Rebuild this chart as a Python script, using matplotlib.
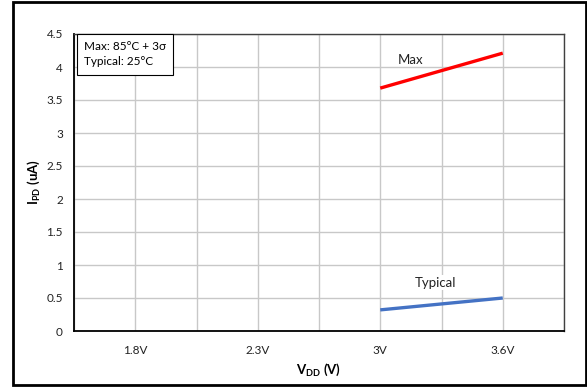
import numpy as np
import matplotlib.pyplot as plt
from matplotlib.patches import Rectangle

plt.rcParams['font.family'] = ['Lato', 'DejaVu Sans']
plt.rcParams['mathtext.fontset'] = 'custom'
plt.rcParams['mathtext.rm'] = 'Lato'
plt.rcParams['mathtext.bf'] = 'Lato:bold'
plt.rcParams['mathtext.default'] = 'regular'

categories = ['1.8V', '2.3V', '3V', '3.6V']
max_vdd = ['3V', '3.6V']
max_ipd = [3.68, 4.21]
typ_vdd = ['3V', '3.6V']
typ_ipd = [0.32, 0.50]

fig = plt.figure(figsize=(5.87, 3.87), dpi=100)
ax = fig.add_axes([74 / 587, 1 - 331 / 387, 490 / 587, 297 / 387])

xpos = {c: i for i, c in enumerate(categories)}
ax.plot([xpos[v] for v in max_vdd], max_ipd, color='#ff0000', lw=2.4,
        solid_capstyle='butt', zorder=3)
ax.plot([xpos[v] for v in typ_vdd], typ_ipd, color='#4472c4', lw=2.4,
        solid_capstyle='butt', zorder=3)

ax.text(2.25, 4.1, 'Max', fontsize=9.5, ha='center', va='center', color='#222222')
ax.text(2.45, 0.73, 'Typical', fontsize=9.5, ha='center', va='center', color='#222222',
        bbox=dict(facecolor='white', edgecolor='none', pad=1))

ax.set_xlim(-0.5, 3.5)
ax.set_ylim(0, 4.5)
ax.set_xticks(range(len(categories)))
ax.set_xticklabels(categories)
ax.set_xticks(np.arange(-0.5, 3.6, 1), minor=True)
ax.set_yticks(np.arange(0, 4.51, 0.5))
ax.set_yticklabels(['0', '0.5', '1', '1.5', '2', '2.5', '3', '3.5', '4', '4.5'])
ax.grid(True, which='both', color='#c8c8c8', lw=1)
ax.set_axisbelow(True)
ax.tick_params(which='both', length=0, labelsize=8.5, colors='#222222')
ax.tick_params(axis='x', pad=10)
ax.tick_params(axis='y', pad=8)
for s in ax.spines.values():
    s.set_color('#404040')
    s.set_linewidth(1)
ax.spines['left'].set_color('black')
ax.spines['bottom'].set_color('black')
ax.spines['left'].set_linewidth(1.3)
ax.spines['bottom'].set_linewidth(1.3)

ax.set_xlabel(r'$\mathbf{V_{DD}}$ (V)', fontsize=9.5, fontweight='bold', labelpad=4)
ax.set_ylabel(r'$\mathbf{I_{PD}}$ (uA)', fontsize=9.5, fontweight='bold', labelpad=3)

ax.text(0.02, 0.975, 'Max: 85°C + 3σ\nTypical: 25°C', transform=ax.transAxes,
        fontsize=8.5, va='top', ha='left', linespacing=1.45,
        bbox=dict(facecolor='white', edgecolor='black', lw=0.8,
                  boxstyle='square,pad=0.6'))

fig.patches.append(Rectangle((13 / 587, 2 / 387), 573 / 587, 383 / 387,
                             transform=fig.transFigure, fill=False,
                             edgecolor='black', lw=2))

fig.savefig('out.png', dpi=100)
